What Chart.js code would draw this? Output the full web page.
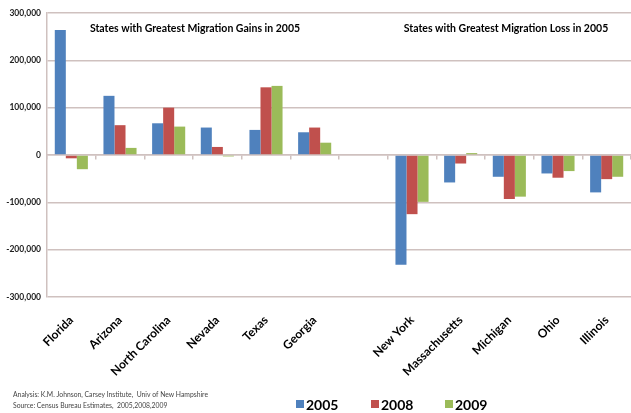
<!DOCTYPE html>
<html>
<head>
<meta charset="utf-8">
<script src="https://cdn.jsdelivr.net/npm/chart.js@4"></script>
<style>
  html, body { margin: 0; padding: 0; background: #fff; }
  #wrap { width: 631px; height: 413px; position: relative; }
</style>
</head>
<body>
<div id="wrap"><canvas id="myChart"></canvas></div>
<script>
// data (the blank category is the gap between the two groups)
const states = ['Florida', 'Arizona', 'North Carolina', 'Nevada', 'Texas', 'Georgia', '',
  'New York', 'Massachusetts', 'Michigan', 'Ohio', 'Illinois'];
const years = ['2005', '2008', '2009'];
const mig2005 = [264000, 125000, 67000, 58000, 53000, 48000, null, -232000, -58000, -46000, -39000, -79000];
const mig2008 = [-7000, 63000, 100000, 17000, 143000, 58000, null, -125000, -18000, -93000, -48000, -51000];
const mig2009 = [-30000, 15000, 60000, -3000, 146000, 26000, null, -99000, 4000, -88000, -34000, -46000];
const yTicks = [-300000, -200000, -100000, 0, 100000, 200000, 300000];
const colors = ['#4f81bd', '#c0504d', '#9bbb59'];
const gridColor = '#cfc1bf';
const font = 'Lato, "Liberation Sans", sans-serif';

const notes = {
  id: 'notes',
  afterDraw(chart) {
    const c = chart.ctx;
    const a = chart.chartArea;
    c.save();
    c.fillStyle = '#000';
    c.font = 'bold 10.5px ' + font;
    c.textBaseline = 'middle';
    c.textAlign = 'center';
    c.fillText('States with Greatest Migration Gains in 2005', a.left + 148, a.top + 16);
    c.fillText('States with Greatest Migration Loss in 2005', a.left + 459, a.top + 16);

    c.textAlign = 'left';
    c.fillStyle = '#444';
    c.font = '6.8px ' + font;
    c.fillText('Analysis: K.M. Johnson, Carsey Institute,  Univ of New Hampshire', 13, 395);
    c.fillText('Source: Census Bureau Estimates,  2005,2008,2009', 13, 406);

    // legend
    const lx = [296, 371, 445];
    c.font = 'bold 14px ' + font;
    years.forEach((y, i) => {
      c.fillStyle = colors[i];
      c.fillRect(lx[i], 400, 8, 8);
      c.fillStyle = '#000';
      c.fillText(y, lx[i] + 10, 405);
    });
    c.restore();
  }
};

new Chart(document.getElementById('myChart'), {
  type: 'bar',
  data: {
    labels: states,
    datasets: [
      { label: years[0], data: mig2005, backgroundColor: colors[0] },
      { label: years[1], data: mig2008, backgroundColor: colors[1] },
      { label: years[2], data: mig2009, backgroundColor: colors[2] }
    ]
  },
  options: {
    responsive: true,
    maintainAspectRatio: false,
    animation: false,
    layout: { padding: { top: 13, left: 0, right: 0, bottom: 0 } },
    datasets: { bar: { barPercentage: 1.0, categoryPercentage: 0.68 } },
    plugins: { legend: { display: false }, tooltip: { enabled: false } },
    scales: {
      x: {
        grid: { display: false },
        border: { display: false },
        ticks: {
          color: '#000',
          font: { family: font, size: 12, weight: 'bold' },
          minRotation: 45, maxRotation: 45,
          padding: 8,
          autoSkip: false
        },
        afterFit: s => { s.height = 116; }
      },
      x2: {
        type: 'category',
        labels: states,
        position: { y: 0 },
        offset: true,
        grid: { offset: true, drawOnChartArea: false, drawTicks: true, tickLength: 4, color: gridColor, lineWidth: 1.5 },
        border: { display: true, color: gridColor, width: 1.5 },
        ticks: { display: false }
      },
      y: {
        min: -300000,
        max: 300000,
        afterBuildTicks: s => { s.ticks = yTicks.map(v => ({ value: v })); },
        grid: { color: gridColor, lineWidth: 1.5, drawTicks: false },
        border: { display: true, color: gridColor, width: 1.5 },
        ticks: {
          color: '#222',
          padding: 6,
          font: { family: font, size: 8.5, weight: 'bold' },
          callback: v => v.toLocaleString('en-US')
        },
        afterFit: s => { s.width = 47; }
      }
    }
  },
  plugins: [notes]
});
</script>
</body>
</html>
